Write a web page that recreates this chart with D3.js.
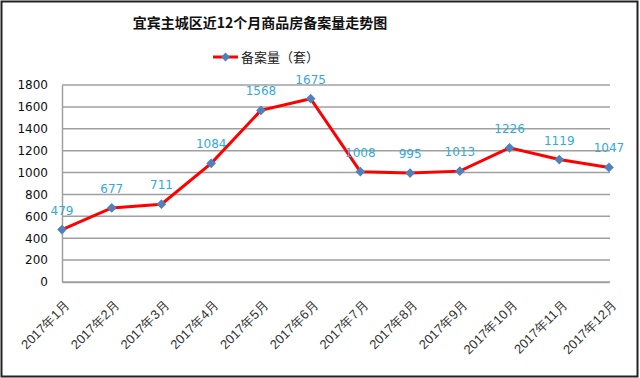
<!DOCTYPE html>
<html>
<head>
<meta charset="utf-8">
<script src="https://cdn.jsdelivr.net/npm/d3@7"></script>
<style>
  body { margin: 0; background: #fff; }
  svg { display: block; font-family: "Noto Sans CJK SC", "DejaVu Sans", sans-serif; }
</style>
</head>
<body>
<svg id="chart" width="640" height="378"></svg>
<script>
const months = ["2017年1月", "2017年2月", "2017年3月", "2017年4月", "2017年5月", "2017年6月",
  "2017年7月", "2017年8月", "2017年9月", "2017年10月", "2017年11月", "2017年12月"];
const filings = [479, 677, 711, 1084, 1568, 1675, 1008, 995, 1013, 1226, 1119, 1047];
const yTicks = [0, 200, 400, 600, 800, 1000, 1200, 1400, 1600, 1800];

const title = "宜宾主城区近12个月商品房备案量走势图";
const seriesName = "备案量（套）";

const svg = d3.select("#chart");

// outer frame
svg.append("rect")
  .attr("x", 1.5).attr("y", 1.5)
  .attr("width", 636).attr("height", 375)
  .attr("fill", "#fff").attr("stroke", "#222").attr("stroke-width", 2);

const x = d3.scalePoint().domain(months).range([62, 609]);
const y = d3.scaleLinear().domain([0, 1800]).range([282, 85]);

// grid
svg.append("g")
  .selectAll("line")
  .data(yTicks)
  .join("line")
  .attr("x1", 62).attr("x2", 610)
  .attr("y1", (d) => y(d)).attr("y2", (d) => y(d))
  .attr("stroke", "#a0a0a0").attr("stroke-width", 1.5);

// y axis
const yAxis = svg.append("g")
  .attr("transform", "translate(62,0)")
  .call(d3.axisLeft(y).tickValues(yTicks).tickFormat(d3.format("d")).tickSize(0).tickPadding(14));
yAxis.select(".domain").attr("stroke", "#a0a0a0").attr("stroke-width", 1.5);
yAxis.selectAll("text")
  .attr("fill", "#111").style("font-size", "12px")
  .style("font-family", "'DejaVu Sans', sans-serif");

// x axis
const xAxis = svg.append("g")
  .attr("transform", "translate(0,282)")
  .call(d3.axisBottom(x).tickSize(0).tickPadding(0));
xAxis.select(".domain").attr("stroke", "#a0a0a0").attr("stroke-width", 1.5);
xAxis.selectAll("text")
  .attr("fill", "#333").style("font-size", "13px")
  .attr("text-anchor", "end")
  .attr("dy", 0)
  .attr("transform", "translate(8,24) rotate(-45)");

// line
svg.append("path")
  .datum(filings)
  .attr("fill", "none")
  .attr("stroke", "#ff0000")
  .attr("stroke-width", 3)
  .attr("d", d3.line().x((d, i) => x(months[i])).y((d) => y(d)));

// markers
svg.append("g")
  .selectAll("path")
  .data(filings)
  .join("path")
  .attr("d", d3.symbol(d3.symbolDiamond2, 60))
  .attr("transform", (d, i) => `translate(${x(months[i])},${y(d)})`)
  .attr("fill", "#4f81bd");

// data labels
svg.append("g")
  .selectAll("text")
  .data(filings)
  .join("text")
  .attr("x", (d, i) => x(months[i]))
  .attr("y", (d) => y(d) - 15)
  .attr("text-anchor", "middle")
  .attr("fill", "#33a9dc")
  .style("font-size", "12px")
  .style("font-family", "'DejaVu Sans', sans-serif")
  .text((d) => d);

// title
svg.append("text")
  .attr("x", 260).attr("y", 28)
  .attr("text-anchor", "middle")
  .attr("fill", "#111")
  .style("font-size", "14px")
  .style("font-weight", "bold")
  .text(title);

// legend
const legend = svg.append("g").attr("transform", "translate(213,57)");
legend.append("line")
  .attr("x1", 0).attr("x2", 25)
  .attr("stroke", "#ff0000").attr("stroke-width", 3);
legend.append("path")
  .attr("d", d3.symbol(d3.symbolDiamond2, 50))
  .attr("transform", "translate(12.5,0)")
  .attr("fill", "#4f81bd");
legend.append("text")
  .attr("x", 28).attr("y", 5)
  .attr("fill", "#222")
  .style("font-size", "13px")
  .text(seriesName);
</script>
</body>
</html>
